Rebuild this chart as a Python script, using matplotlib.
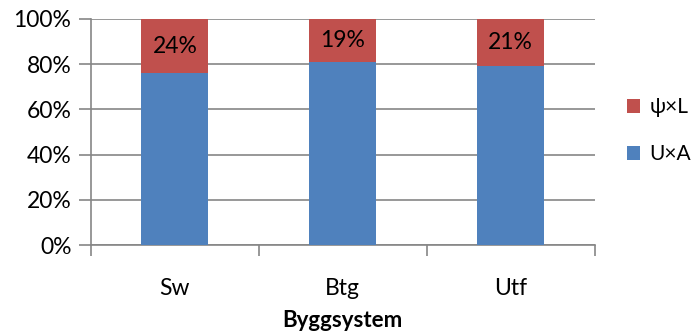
import numpy as np
import matplotlib.pyplot as plt
from matplotlib.ticker import FixedLocator, PercentFormatter

plt.rcParams['font.family'] = ['Lato', 'DejaVu Sans']

systems = ['Sw', 'Btg', 'Utf']
ua_share = [76, 81, 79]
psil_share = [24, 19, 21]

red = '#C0504D'
blue = '#4F81BD'
grey = '#868686'
fs = 16.5

fig = plt.figure(figsize=(6.94, 3.32), dpi=100)
ax = fig.add_axes([0.131, 0.262, 0.726, 0.681])

x = np.arange(len(systems))
ax.bar(x, ua_share, width=0.4, color=blue, label='U×A', zorder=3)
ax.bar(x, psil_share, width=0.4, bottom=ua_share, color=red, label='ψ×L', zorder=3)

for xi, base, val in zip(x, ua_share, psil_share):
    ax.text(xi, base + val / 2, f'{val}%', ha='center', va='center',
            fontsize=fs, zorder=4)

ax.set_xlim(-0.5, len(systems) - 0.5)
ax.set_ylim(0, 100)
ax.set_yticks(np.arange(0, 101, 20))
ax.yaxis.set_major_formatter(PercentFormatter(decimals=0))
ax.grid(axis='y', color=grey, linewidth=1.2, zorder=0)

ax.set_xticks(x)
ax.set_xticklabels(systems)
ax.xaxis.set_minor_locator(FixedLocator(np.arange(-0.5, len(systems), 1.0)))
ax.tick_params(axis='x', which='major', length=0, pad=24, labelsize=fs)
ax.tick_params(axis='x', which='minor', length=8, color=grey, width=1.2)
ax.tick_params(axis='y', length=9, color=grey, width=1.2, labelsize=fs, pad=5)

for side in ['top', 'right']:
    ax.spines[side].set_visible(False)
for side in ['left', 'bottom']:
    ax.spines[side].set_color(grey)
    ax.spines[side].set_linewidth(1.2)

ax.set_xlabel('Byggsystem', fontsize=16, fontweight='bold', va='center')
ax.xaxis.set_label_coords(0.5, -0.335)

handles, labels = ax.get_legend_handles_labels()
ax.legend(handles[::-1], labels[::-1], loc='center left', bbox_to_anchor=(1.063, 0.505),
          frameon=False, fontsize=15, handlelength=0.65, handleheight=0.65,
          handletextpad=0.45, labelspacing=1.3, borderpad=0, borderaxespad=0)

fig.savefig('out.png', dpi=100)
